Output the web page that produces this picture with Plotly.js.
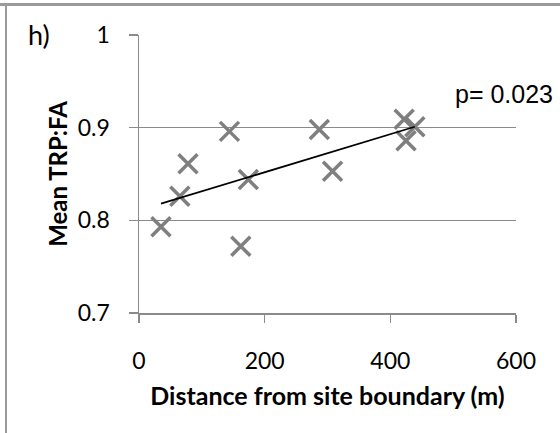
<!DOCTYPE html>
<html>
<head>
<meta charset="utf-8">
<script src="https://cdn.plot.ly/plotly-3.0.1.min.js"></script>
<style>
  html, body { margin: 0; padding: 0; background: #fff; }
  #wrap { position: relative; width: 560px; height: 433px; overflow: hidden; }
  #chart { position: absolute; left: 0; top: 0; width: 560px; height: 433px; }
  #topline { position: absolute; left: 0; top: 3px; width: 560px; height: 3px; background: #9a9a9a; }
  #leftline { position: absolute; left: 5px; top: 3px; width: 2px; height: 430px; background: #9a9a9a; }
</style>
</head>
<body>
<div id="wrap">
  <div id="chart"></div>
  <div id="topline"></div>
  <div id="leftline"></div>
</div>
<script>
// Distance from site boundary (m)
const distance = [35, 65, 78, 144, 174, 162, 287, 308, 422, 439, 425];
// Mean TRP:FA
const meanTRPFA = [0.793, 0.826, 0.861, 0.896, 0.844, 0.772, 0.898, 0.853, 0.909, 0.901, 0.886];
// Fitted trend line endpoints
const trendX = [35, 439];
const trendY = [0.818, 0.901];
const xTicks = [0, 200, 400, 600];
const yTicks = [0.7, 0.8, 0.9, 1];
const yTickText = ['0.7', '0.8', '0.9', '1'];
const panelLabel = 'h)';
const pLabel = 'p= 0.023';

const gray = '#8a8a8a';
const fam = 'Lato, "Open Sans", sans-serif';
const tickFont = { family: fam, size: 23, color: '#000' };

const traces = [
  {
    type: 'scatter', mode: 'markers', x: distance, y: meanTRPFA,
    marker: { symbol: 'x-thin-open', size: 19, color: '#7f7f7f', line: { color: '#7f7f7f', width: 3.5 } },
    hoverinfo: 'skip', showlegend: false
  },
  {
    type: 'scatter', mode: 'lines', x: trendX, y: trendY,
    line: { color: '#000', width: 1.8 },
    hoverinfo: 'skip', showlegend: false
  }
];

const layout = {
  width: 560, height: 433,
  margin: { l: 139, r: 44, t: 35, b: 120, pad: 0 },
  paper_bgcolor: '#fff', plot_bgcolor: '#fff',
  showlegend: false,
  xaxis: {
    range: [0, 600], tickvals: xTicks, ticks: 'outside', ticklen: 8, tickwidth: 1.5, tickcolor: gray,
    showline: true, linecolor: gray, linewidth: 1.5, showgrid: false, zeroline: false,
    tickfont: tickFont, ticklabelstandoff: 19,
    title: { text: '<b>Distance from site boundary (m)</b>', font: { family: fam, size: 25, color: '#000' }, standoff: 14 }
  },
  yaxis: {
    range: [0.7, 1], tickvals: yTicks, ticktext: yTickText, ticks: 'outside', ticklen: 9, tickwidth: 1.5, tickcolor: gray,
    showline: true, linecolor: gray, linewidth: 1.5, showgrid: true, gridcolor: gray, gridwidth: 1.5, zeroline: false,
    tickfont: tickFont, ticklabelstandoff: 14,
    title: { text: '<b>Mean TRP:FA</b>', font: { family: fam, size: 24, color: '#000' }, standoff: 3 }
  },
  annotations: [
    { text: panelLabel, xref: 'paper', yref: 'paper', x: (26 - 139) / 377, y: (313 - 34) / 278,
      xanchor: 'left', yanchor: 'middle', showarrow: false,
      font: { family: fam, size: 27, color: '#000' } },
    { text: pLabel, xref: 'paper', yref: 'paper', x: (453 - 139) / 377, y: (313 - 94) / 278,
      xanchor: 'left', yanchor: 'middle', showarrow: false,
      font: { family: '"Liberation Sans", Arial, sans-serif', size: 25, color: '#000' } }
  ]
};

Plotly.newPlot('chart', traces, layout, { displayModeBar: false, staticPlot: true });
</script>
</body>
</html>
